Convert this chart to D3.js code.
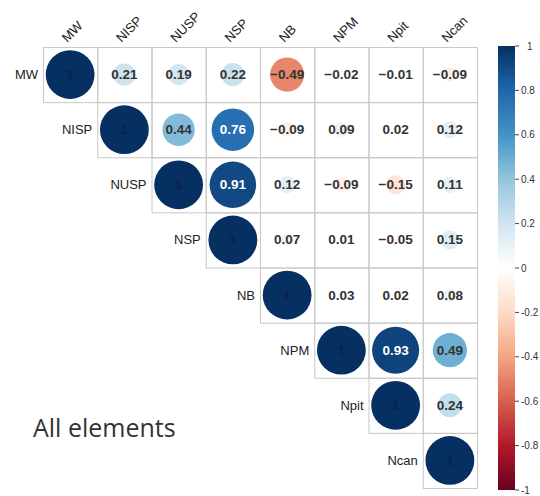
<!DOCTYPE html>
<html><head><meta charset="utf-8">
<script src="https://cdn.jsdelivr.net/npm/d3@7"></script>
<style>body{margin:0;background:#fff;}svg{display:block;}</style>
</head><body>
<script>
const colLabels = ["MW","NISP","NUSP","NSP","NB","NPM","Npit","Ncan"];
const rowLabels = ["MW","NISP","NUSP","NSP","NB","NPM","Npit","Ncan"];
const rowMW   = [1, 0.21, 0.19, 0.22, -0.49, -0.02, -0.01, -0.09];
const rowNISP = [1, 0.44, 0.76, -0.09, 0.09, 0.02, 0.12];
const rowNUSP = [1, 0.91, 0.12, -0.09, -0.15, 0.11];
const rowNSP  = [1, 0.07, 0.01, -0.05, 0.15];
const rowNB   = [1, 0.03, 0.02, 0.08];
const rowNPM  = [1, 0.93, 0.49];
const rowNpit = [1, 0.24];
const rowNcan = [1];
const upperRows = [rowMW,rowNISP,rowNUSP,rowNSP,rowNB,rowNPM,rowNpit,rowNcan];
const legendTicks = [1,0.8,0.6,0.4,0.2,0,-0.2,-0.4,-0.6,-0.8,-1];
const titleText = "All elements";
const paletteStops = ["#67001F","#B2182B","#D6604D","#F4A582","#FDDBC7","#FFFFFF","#D1E5F0","#92C5DE","#4393C3","#2166AC","#053061"];

const W=540,H=496;
const svg=d3.select("body").append("svg").attr("width",W).attr("height",H);

const cells=[];
upperRows.forEach((row,i)=>row.forEach((v,k)=>cells.push({i:i,j:i+k,v:v})));

const x=d3.scaleBand().domain(d3.range(colLabels.length)).range([43,477]).padding(0);
const y=d3.scaleBand().domain(d3.range(rowLabels.length)).range([47,488]).padding(0);
const color=d3.scaleLinear().domain(d3.range(paletteStops.length).map(k=>-1+2*k/(paletteStops.length-1))).range(paletteStops).interpolate(d3.interpolateRgb);
const rmax=Math.min(x.bandwidth(),y.bandwidth())*0.9/2;
const rScale=d3.scaleSqrt().domain([0,1]).range([0,rmax]);

const g=svg.append("g");
g.selectAll("rect.cell").data(cells).join("rect").attr("class","cell")
 .attr("x",d=>x(d.j)+0.5).attr("y",d=>y(d.i)+0.5)
 .attr("width",x.bandwidth()).attr("height",y.bandwidth())
 .attr("fill","none").attr("stroke","#c8c8c8").attr("stroke-width",1);

g.selectAll("circle").data(cells).join("circle")
 .attr("cx",d=>x(d.j)+x.bandwidth()/2).attr("cy",d=>y(d.i)+y.bandwidth()/2)
 .attr("r",d=>rScale(Math.abs(d.v)))
 .attr("fill",d=>color(d.v));

g.selectAll("text.num").data(cells).join("text").attr("class","num")
 .attr("x",d=>x(d.j)+x.bandwidth()/2).attr("y",d=>y(d.i)+y.bandwidth()/2)
 .attr("text-anchor","middle").attr("dominant-baseline","central")
 .attr("font-family","Liberation Sans, Arial, sans-serif").attr("font-weight","bold").attr("font-size","13.5px")
 .attr("fill",d=>d.v===1?"#10204a":(Math.abs(d.v)>0.7?"#ffffff":"#333333"))
 .text(d=>d.v===1?"1":d3.format(".2f")(d.v));

svg.selectAll("text.rl").data(rowLabels).join("text").attr("class","rl")
 .attr("x",(d,i)=>x(i)-5).attr("y",(d,i)=>y(i)+y.bandwidth()/2)
 .attr("text-anchor","end").attr("dominant-baseline","central")
 .attr("font-family","Liberation Sans, Arial, sans-serif").attr("font-size","13px").attr("fill","#222")
 .text(d=>d);

svg.selectAll("text.cl").data(colLabels).join("text").attr("class","cl")
 .attr("transform",(d,i)=>`translate(${x(i)+x.bandwidth()/2-3},${47-4}) rotate(-45)`)
 .attr("text-anchor","start")
 .attr("font-family","Liberation Sans, Arial, sans-serif").attr("font-size","13px").attr("fill","#222")
 .text(d=>d);

const defs=svg.append("defs");
const grad=defs.append("linearGradient").attr("id","lg").attr("x1",0).attr("y1",1).attr("x2",0).attr("y2",0);
paletteStops.forEach((c,k)=>grad.append("stop").attr("offset",k/(paletteStops.length-1)).attr("stop-color",c));
const ly=d3.scaleLinear().domain([-1,1]).range([490,46]);
svg.append("rect").attr("x",498).attr("y",ly(1)).attr("width",17).attr("height",ly(-1)-ly(1)).attr("fill","url(#lg)");
const lg=svg.append("g").attr("transform","translate(515,0)");
lg.selectAll("line").data(legendTicks).join("line").attr("x1",0).attr("x2",4).attr("y1",d=>ly(d)).attr("y2",d=>ly(d)).attr("stroke","#444");
lg.selectAll("text").data(legendTicks).join("text").attr("x",d=>d===1?12:6).attr("y",d=>ly(d)).attr("dominant-baseline","central")
 .attr("font-family","Liberation Sans, Arial, sans-serif").attr("font-size","10px").attr("fill","#333")
 .text(d=>d3.format("")(d).replace("−","-"));

svg.append("text").attr("x",33).attr("y",437).attr("font-family","Open Sans, sans-serif").attr("font-size","25px").attr("fill","#333").text(titleText);
</script>
</body></html>
